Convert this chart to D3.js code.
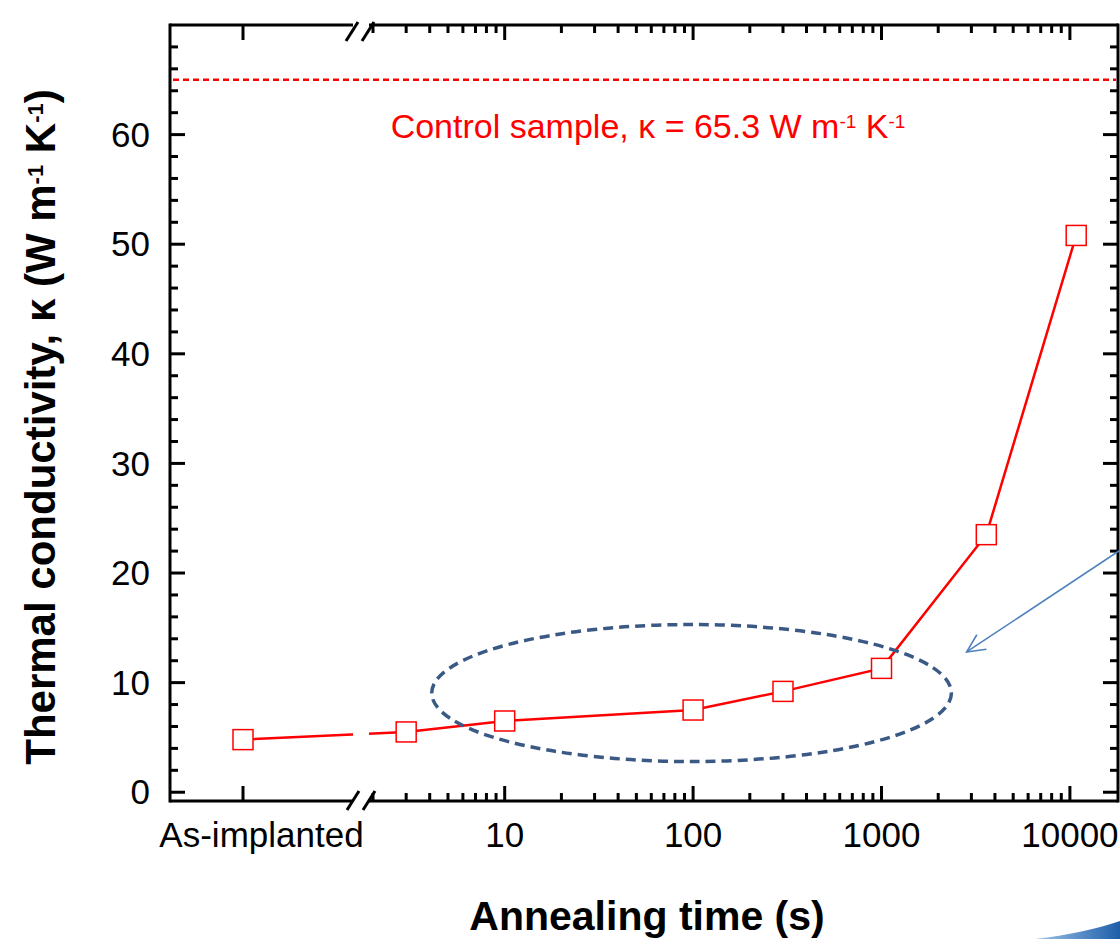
<!DOCTYPE html>
<html>
<head>
<meta charset="utf-8">
<script src="https://cdn.jsdelivr.net/npm/d3@7"></script>
<style>
	body { margin: 0; background: #fff; }
	svg { display: block; font-family: "Liberation Sans", Arial, sans-serif; }
</style>
</head>
<body>
<svg id="chart" width="1120" height="939"></svg>
<script>
// categorical point left of the axis break
var catLabels = ["As-implanted"]
var catKappa = [4.8]

// annealed samples (log time axis)
var times = [3, 10, 100, 300, 1000, 3600, 10800]
var kappa = [5.5, 6.5, 7.5, 9.2, 11.3, 23.5, 50.8]

// control sample reference
var controlKappa = 65

var yMajor = [0, 10, 20, 30, 40, 50, 60]
var xMajor = [10, 100, 1000, 10000]
var xMajorLabels = ["10", "100", "1000", "10000"]

// frame
var pLeft = 170, pRight = 1118, pTop = 25, pBottom = 801
var breakL = 353, breakR = 369

var svg = d3.select("#chart")

var y = d3.scaleLinear().domain([-0.8, 70]).range([pBottom, pTop])
var xCat = d3.scalePoint().domain(catLabels).range([pLeft, 316])
var xLog = d3.scaleLog().domain([2, 18000]).range([373, pRight])

var red = "#ff0000"

// minor ticks
var yMinor = d3.range(2, 70, 2).filter(function(d) { return d % 10 != 0 })
var xMinor = []
;[1, 10, 100, 1000].forEach(function(dec) {
	for (var m = 2; m <= 9; m++) xMinor.push(dec * m)
})

var axes = svg.append("g").attr("stroke", "#000").attr("stroke-width", 3).attr("fill", "none")

// frame lines (with break on top and bottom)
axes.append("line").attr("x1", pLeft).attr("x2", pLeft).attr("y1", pTop - 1.5).attr("y2", pBottom + 1.5)
axes.append("line").attr("x1", pRight).attr("x2", pRight).attr("y1", pTop - 1.5).attr("y2", pBottom + 1.5)
;[pTop, pBottom].forEach(function(yy) {
	axes.append("line").attr("x1", pLeft).attr("x2", breakL).attr("y1", yy).attr("y2", yy)
	axes.append("line").attr("x1", breakR).attr("x2", pRight).attr("y1", yy).attr("y2", yy)
})

// break slashes
;[breakL, breakR].forEach(function(bx) {
	axes.append("line").attr("x1", bx - 7).attr("y1", pTop + 16).attr("x2", bx + 5).attr("y2", pTop - 3)
	axes.append("line").attr("x1", bx - 6).attr("y1", pBottom + 9).attr("x2", bx + 6).attr("y2", pBottom - 10)
})

// y ticks, left and right, pointing inward
yMajor.forEach(function(v) {
	axes.append("line").attr("x1", pLeft).attr("x2", pLeft + 15).attr("y1", y(v)).attr("y2", y(v))
	axes.append("line").attr("x1", pRight).attr("x2", pRight - 15).attr("y1", y(v)).attr("y2", y(v))
})
yMinor.forEach(function(v) {
	axes.append("line").attr("x1", pLeft).attr("x2", pLeft + 8).attr("y1", y(v)).attr("y2", y(v))
	axes.append("line").attr("x1", pRight).attr("x2", pRight - 8).attr("y1", y(v)).attr("y2", y(v))
})

// x ticks, bottom and top
catLabels.forEach(function(c) {
	axes.append("line").attr("x1", xCat(c)).attr("x2", xCat(c)).attr("y1", pBottom).attr("y2", pBottom - 15)
	axes.append("line").attr("x1", xCat(c)).attr("x2", xCat(c)).attr("y1", pTop).attr("y2", pTop + 15)
})
xMajor.forEach(function(v) {
	axes.append("line").attr("x1", xLog(v)).attr("x2", xLog(v)).attr("y1", pBottom).attr("y2", pBottom - 15)
	axes.append("line").attr("x1", xLog(v)).attr("x2", xLog(v)).attr("y1", pTop).attr("y2", pTop + 15)
})
xMinor.forEach(function(v) {
	axes.append("line").attr("x1", xLog(v)).attr("x2", xLog(v)).attr("y1", pBottom).attr("y2", pBottom - 8)
	axes.append("line").attr("x1", xLog(v)).attr("x2", xLog(v)).attr("y1", pTop).attr("y2", pTop + 8)
})

// tick labels
svg.append("g").selectAll("text")
	.data(yMajor)
	.enter()
	.append("text")
	.attr("x", pLeft - 20)
	.attr("y", function(d) { return y(d) })
	.attr("dy", "0.35em")
	.attr("text-anchor", "end")
	.attr("font-size", 35)
	.text(function(d) { return d })

svg.append("text")
	.attr("x", (pLeft + breakL) / 2)
	.attr("y", pBottom + 46)
	.attr("text-anchor", "middle")
	.attr("font-size", 35)
	.text(catLabels[0])

svg.append("g").selectAll("text")
	.data(xMajor)
	.enter()
	.append("text")
	.attr("x", function(d) { return xLog(d) })
	.attr("y", pBottom + 46)
	.attr("text-anchor", "middle")
	.attr("font-size", 35)
	.text(function(d, i) { return xMajorLabels[i] })

// axis titles
svg.append("text")
	.attr("x", 647)
	.attr("y", 930)
	.attr("text-anchor", "middle")
	.attr("font-size", 41)
	.attr("font-weight", "bold")
	.text("Annealing time (s)")

var yt = svg.append("text")
	.attr("transform", "translate(55,427) rotate(-90)")
	.attr("text-anchor", "middle")
	.attr("font-size", 42)
	.attr("font-weight", "bold")
yt.append("tspan").text("Thermal conductivity, \u03ba (W m")
yt.append("tspan").attr("baseline-shift", "super").attr("font-size", 22).text("-1")
yt.append("tspan").text(" K")
yt.append("tspan").attr("baseline-shift", "super").attr("font-size", 22).text("-1")
yt.append("tspan").text(")")

// control sample line and label
svg.append("line")
	.attr("x1", pLeft + 3).attr("x2", pRight - 2)
	.attr("y1", y(controlKappa)).attr("y2", y(controlKappa))
	.attr("stroke", red).attr("stroke-width", 2.5).attr("stroke-dasharray", "6,4")

var ct = svg.append("text")
	.attr("x", 648)
	.attr("y", 138)
	.attr("text-anchor", "middle")
	.attr("font-size", 34)
	.attr("fill", red)
ct.append("tspan").text("Control sample, \u03ba = 65.3 W m")
ct.append("tspan").attr("baseline-shift", "super").attr("font-size", 19).text("-1")
ct.append("tspan").text(" K")
ct.append("tspan").attr("baseline-shift", "super").attr("font-size", 19).text("-1")

// data line, broken at the axis break
var pts = catLabels.map(function(c, i) { return [xCat(c), y(catKappa[i])] })
	.concat(times.map(function(t, i) { return [xLog(t), y(kappa[i])] }))

var defs = svg.append("defs")
var clip = defs.append("clipPath").attr("id", "brk")
clip.append("rect").attr("x", pLeft).attr("y", pTop).attr("width", breakL - pLeft).attr("height", pBottom - pTop)
clip.append("rect").attr("x", breakR).attr("y", pTop).attr("width", pRight - breakR).attr("height", pBottom - pTop)

svg.append("path")
	.attr("d", d3.line()(pts))
	.attr("clip-path", "url(#brk)")
	.attr("fill", "none")
	.attr("stroke", red)
	.attr("stroke-width", 2.5)

svg.selectAll("rect.mk")
	.data(pts)
	.enter()
	.append("rect")
	.classed("mk", true)
	.attr("x", function(d) { return d[0] - 10 })
	.attr("y", function(d) { return d[1] - 10 })
	.attr("width", 20)
	.attr("height", 20)
	.attr("fill", "#fff")
	.attr("stroke", red)
	.attr("stroke-width", 1.5)

// highlight ellipse around the low-temperature points
var ex0 = xLog(4.1), ex1 = xLog(2350), ey0 = y(15.3), ey1 = y(2.8)
svg.append("ellipse")
	.attr("cx", (ex0 + ex1) / 2)
	.attr("cy", (ey0 + ey1) / 2)
	.attr("rx", (ex1 - ex0) / 2)
	.attr("ry", (ey1 - ey0) / 2)
	.attr("fill", "none")
	.attr("stroke", "#3a5a85")
	.attr("stroke-width", 3.5)
	.attr("stroke-dasharray", "10,6")

// arrow pointing at the ellipse
var ax0 = 1122, ay0 = y(22.2), ax1 = xLog(2830), ay1 = y(12.8)
var ang = Math.atan2(ay1 - ay0, ax1 - ax0)
var arm = 20, spread = 0.45
var arrow = svg.append("g").attr("stroke", "#4f81bd").attr("stroke-width", 1.6).attr("fill", "none")
arrow.append("line").attr("x1", ax0).attr("y1", ay0).attr("x2", ax1).attr("y2", ay1)
arrow.append("path").attr("d",
	"M" + (ax1 - arm * Math.cos(ang - spread)) + "," + (ay1 - arm * Math.sin(ang - spread)) +
	"L" + ax1 + "," + ay1 +
	"L" + (ax1 - arm * Math.cos(ang + spread)) + "," + (ay1 - arm * Math.sin(ang + spread)))

// slide decoration in the bottom right corner
var grad = defs.append("linearGradient").attr("id", "sw").attr("x1", 0).attr("x2", 1)
grad.append("stop").attr("offset", 0).attr("stop-color", "#9ec3ea")
grad.append("stop").attr("offset", 1).attr("stop-color", "#1d5ea8")
svg.append("path")
	.attr("d", "M1035,939 Q1085,933 1120,921 L1120,939 Z")
	.attr("fill", "url(#sw)")
</script>
</body>
</html>
